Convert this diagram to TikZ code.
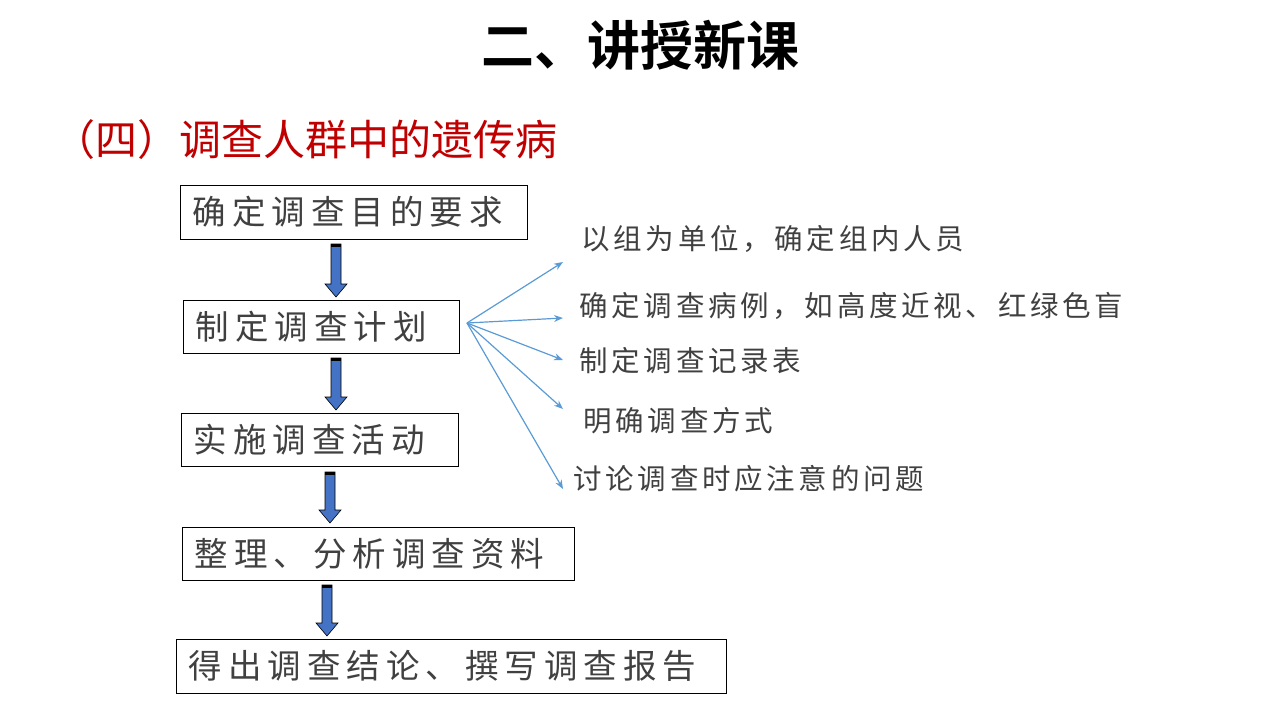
\documentclass[tikz,border=0pt]{standalone}
\usetikzlibrary{arrows.meta}
\usepackage{fontspec}
\setmainfont{Noto Sans CJK SC}
\newfontfamily\cjk{Noto Sans CJK SC}
\newfontfamily\cjkb{Noto Sans CJK SC Bold}
\newfontfamily\boxf[LetterSpace=18]{Noto Sans CJK SC}
\newfontfamily\itemf[LetterSpace=13]{Noto Sans CJK SC}
\definecolor{txt}{HTML}{404040}
\definecolor{barr}{HTML}{4472C4}
\definecolor{larr}{HTML}{5B9BD5}
\definecolor{red1}{HTML}{C00000}
\begin{document}
\begin{tikzpicture}[x=1pt,y=-1pt,
  btxt/.style={font=\boxf\fontsize{33.5}{38}\selectfont,text=txt,anchor=west},
  itxt/.style={font=\itemf\fontsize{28.5}{32}\selectfont,text=txt,anchor=west},
  fan/.style={draw=larr,line width=1.2pt,-{Stealth[length=9pt,width=7pt]}}]
\useasboundingbox (0,0) rectangle (1280,720);
\node[font=\cjkb\fontsize{53}{60}\selectfont] (title) at (640,45) {二、讲授新课};
\node[font=\cjk\fontsize{42}{48}\selectfont,text=red1,anchor=west] (sub) at (50,140) {（四）调查人群中的遗传病};
\newcommand\bx[4]{\draw[line width=1pt] (#1,#2) rectangle (#3,#4);}
\bx{180}{185}{527}{239}\node[btxt] (b1) at (189,212) {确定调查目的要求};
\bx{183}{300}{459}{353}\node[btxt] (b2) at (192,327) {制定调查计划};
\bx{181}{413}{458}{466}\node[btxt] (b3) at (190,440) {实施调查活动};
\bx{182}{527}{574}{580}\node[btxt] (b4) at (191,554) {整理、分析调查资料};
\bx{176}{639}{726}{693}\node[btxt] (b5) at (185,666) {得出调查结论、撰写调查报告};
\newcommand\barrow[3]{\fill[barr,draw=black,line width=0.6pt] (#1-5,#2) -- (#1+5,#2) -- (#1+5,#3-13) -- (#1+11,#3-13) -- (#1,#3) -- (#1-11,#3-13) -- (#1-5,#3-13) -- cycle;
  \fill[black] (#1-5,#2) rectangle (#1+5,#2+3);}
\barrow{336}{244}{297}
\barrow{336}{358}{410}
\barrow{330}{472}{523}
\barrow{327}{585}{636}
\coordinate (o) at (467,323);
\coordinate (e1) at (563,262);
\coordinate (e2) at (563,318);
\coordinate (e3) at (563,360);
\coordinate (e4) at (563,409);
\coordinate (e5) at (563,489);
\foreach \e in {e1,e2,e3,e4,e5} \draw[fan] (o) -- (\e);
\node[itxt] (t1) at (578,239) {以组为单位，确定组内人员};
\node[itxt] (t2) at (576,306) {确定调查病例，如高度近视、红绿色盲};
\node[itxt] (t3) at (576,361) {制定调查记录表};
\node[itxt] (t4) at (580,421) {明确调查方式};
\node[itxt] (t5) at (570,479) {讨论调查时应注意的问题};
\end{tikzpicture}
\end{document}
